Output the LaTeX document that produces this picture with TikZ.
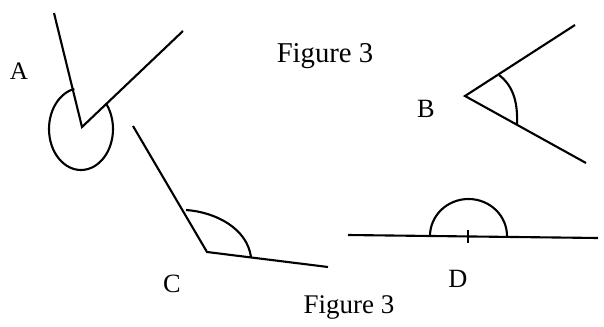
\documentclass[tikz,border=0pt]{standalone}
\usepackage{fontspec}
\setmainfont{Liberation Serif}
\tikzset{lbl/.style={font=\fontsize{22.5}{26}\selectfont,anchor=base,inner sep=0pt}}
\begin{document}
\begin{tikzpicture}[x=0.03cm,y=0.03cm,line width=1.8pt]
\useasboundingbox (0,0) rectangle (604,326);
% angle A (reflex)
\coordinate (va) at (82,199);
\draw (54,313) -- (va) -- (183,295);
\draw (81,197) ++(102:32 and 41) arc[start angle=102,end angle=398,x radius=32,y radius=41];
\node[lbl,font=\fontsize{21.5}{25}\selectfont] (labA) at (19,247) {A};

% angle B
\coordinate (vb) at (465,230);
\draw (575,301) -- (vb) -- (586,163);
\draw (499,251) .. controls (512,241) and (518,226) .. (517,202);
\node[lbl] (labB) at (426,209) {B};

% angle C
\coordinate (vc) at (207,74);
\draw (133,200) -- (vc) -- (328,59);
\draw (186,116) .. controls (215,114) and (247,98) .. (251,69);
\node[lbl] (labC) at (172,34) {C};

% angle D (straight)
\draw (348,91) -- (598,88);
\draw (468,96) -- (468,83);
\draw (430,90) arc[start angle=180,end angle=0,x radius=38.5,y radius=37];
\node[lbl] (labD) at (458,39) {D};

\node[lbl,font=\fontsize{24.5}{28}\selectfont] (fig1) at (325,264) {Figure 3};
\node[lbl,font=\fontsize{23}{27}\selectfont] (fig2) at (349,13) {Figure 3};
\end{tikzpicture}
\end{document}
